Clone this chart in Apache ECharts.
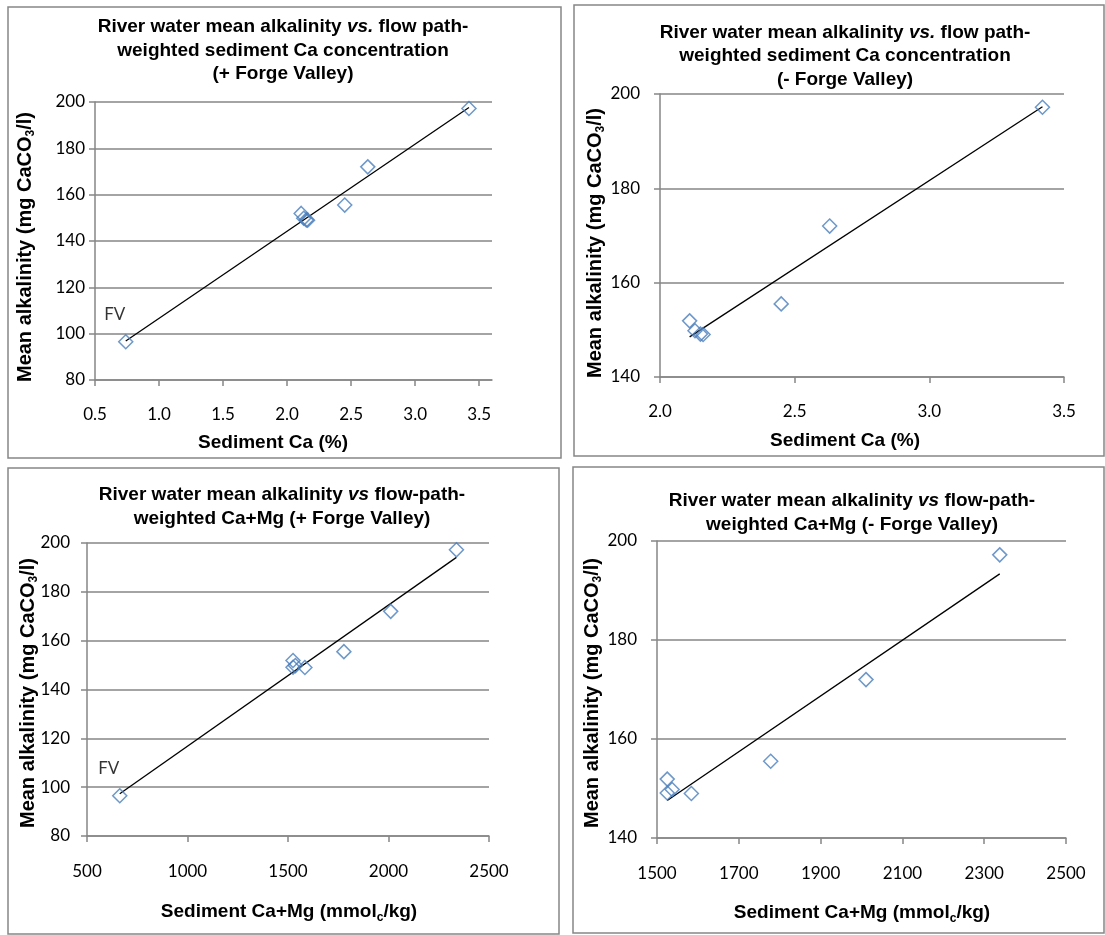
<!DOCTYPE html>
<html>
<head>
<meta charset="utf-8">
<style>
html,body{margin:0;padding:0;background:#fff;}
#chart{width:1105px;height:935px;}
</style>
<script src="https://cdn.jsdelivr.net/npm/echarts@6/dist/echarts.min.js"></script>
</head>
<body>
<div id="chart"></div>
<script>
// one value per site, Forge Valley (FV) is the first one
var alkalinity = [96.5, 151.9, 149.8, 149.1, 149.0, 155.5, 172.0, 197.2];
var sedimentCa = [0.74, 2.11, 2.13, 2.15, 2.16, 2.45, 2.63, 3.42];
var sedimentCaMg = [663, 1525, 1537, 1525, 1584, 1778, 2011, 2338];

// tick labels
var ticksCaFV = [0.5, 1.0, 1.5, 2.0, 2.5, 3.0, 3.5];
var ticksCa = [2.0, 2.5, 3.0, 3.5];
var ticksCaMgFV = [500, 1000, 1500, 2000, 2500];
var ticksCaMg = [1500, 1700, 1900, 2100, 2300, 2500];
var ticksAlkFV = [80, 100, 120, 140, 160, 180, 200];
var ticksAlk = [140, 160, 180, 200];

var GREY = '#868686';
var BLUE = '#4a7ebb';
var TXT = 'Liberation Sans, Arial, sans-serif';
var NUM = 'Lato, sans-serif';

function pairs(xs, ys) {
	return xs.map(function(x, i) { return [x, ys[i]]; });
}

// least squares trend, drawn from the smallest to the largest x
function trend(xs, ys) {
	var n = xs.length, mx = 0, my = 0, sxy = 0, sxx = 0, i;
	for (i = 0; i < n; i++) { mx += xs[i]; my += ys[i]; }
	mx /= n; my /= n;
	for (i = 0; i < n; i++) {
		sxy += (xs[i] - mx) * (ys[i] - my);
		sxx += (xs[i] - mx) * (xs[i] - mx);
	}
	var k = sxy / sxx, b = my - k * mx;
	var lo = Math.min.apply(null, xs), hi = Math.max.apply(null, xs);
	return [[lo, k * lo + b], [hi, k * hi + b]];
}

var panels = [
	{
		box: [8, 7, 553, 451],
		grid: {left: 95, top: 102, width: 397, height: 278},
		xs: sedimentCa, ys: alkalinity, fv: true,
		xTicks: ticksCaFV, xMax: 3.6, yTicks: ticksAlkFV, dec: 1,
		xLabelMargin: 26, yLabelMargin: 10,
		title: '{b|River water mean alkalinity }{i|vs.}{b| flow path-}\n{b|weighted sediment Ca concentration}\n{b|(+ Forge Valley)}',
		titlePos: [283, 50.5],
		xName: '{b|Sediment Ca (%)}', xNamePos: [273, 443],
		yNamePos: [25, 247]
	},
	{
		box: [574, 5, 530, 451],
		grid: {left: 660, top: 94, width: 404, height: 283},
		xs: sedimentCa.slice(1), ys: alkalinity.slice(1), fv: false,
		xTicks: ticksCa, yTicks: ticksAlk, dec: 1,
		xLabelMargin: 26, yLabelMargin: 20,
		title: '{b|River water mean alkalinity }{i|vs.}{b| flow path-}\n{b|weighted sediment Ca concentration}\n{b|(- Forge Valley)}',
		titlePos: [845, 56],
		xName: '{b|Sediment Ca (%)}', xNamePos: [845, 441],
		yNamePos: [595, 243]
	},
	{
		box: [8, 468, 551, 466],
		grid: {left: 87, top: 543, width: 402, height: 293},
		xs: sedimentCaMg, ys: alkalinity, fv: true,
		xTicks: ticksCaMgFV, yTicks: ticksAlkFV, dec: 0,
		xLabelMargin: 27, yLabelMargin: 17,
		title: '{b|River water mean alkalinity }{i|vs}{b| flow-path-}\n{b|weighted Ca+Mg (+ Forge Valley)}',
		titlePos: [282, 507],
		xName: '{b|Sediment Ca+Mg (mmol}{s|c}{b|/kg)}', xNamePos: [289, 912],
		yNamePos: [28, 693]
	},
	{
		box: [573, 467, 531, 466],
		grid: {left: 657, top: 541, width: 409, height: 297},
		xs: sedimentCaMg.slice(1), ys: alkalinity.slice(1), fv: false,
		xTicks: ticksCaMg, yTicks: ticksAlk, dec: 0,
		xLabelMargin: 27, yLabelMargin: 20,
		title: '{b|River water mean alkalinity }{i|vs}{b| flow-path-}\n{b|weighted Ca+Mg (- Forge Valley)}',
		titlePos: [852, 513],
		xName: '{b|Sediment Ca+Mg (mmol}{s|c}{b|/kg)}', xNamePos: [862, 913],
		yNamePos: [592, 693]
	}
];

var rich = {
	b: {fontFamily: TXT, fontWeight: 'bold', fontSize: 19, lineHeight: 23.5, color: '#000', verticalAlign: 'middle'},
	i: {fontFamily: TXT, fontWeight: 'bold', fontStyle: 'italic', fontSize: 19, lineHeight: 23.5, color: '#000', verticalAlign: 'middle'},
	y: {fontFamily: TXT, fontWeight: 'bold', fontSize: 20, lineHeight: 23.5, color: '#000', verticalAlign: 'middle'},
	s: {fontFamily: TXT, fontWeight: 'bold', fontSize: 12, lineHeight: 12, color: '#000', verticalAlign: 'bottom'}
};

function label(text, pos, rot) {
	return {
		type: 'text',
		x: pos[0], y: pos[1],
		rotation: rot || 0,
		style: {text: text, rich: rich, align: 'center', verticalAlign: 'middle', fill: '#000'}
	};
}

var option = {
	animation: false,
	backgroundColor: '#fff',
	grid: [], xAxis: [], yAxis: [], series: [], graphic: []
};

panels.forEach(function(p, i) {
	var xt = p.xTicks, yt = p.yTicks;
	option.grid.push(p.grid);
	var xa = {
		type: 'value', gridIndex: i,
		min: xt[0], max: p.xMax || xt[xt.length - 1], interval: xt[1] - xt[0],
		axisLine: {lineStyle: {color: GREY, width: 1.5}},
		axisTick: {show: true, length: 6, lineStyle: {color: GREY, width: 1.5}},
		axisLabel: {
			margin: p.xLabelMargin, color: '#000', fontFamily: NUM, fontSize: 17,
			formatter: function(v) { return v.toFixed(p.dec); }
		},
		splitLine: {show: false}
	};
	if (p.xMax) {
		xa.axisTick.customValues = xt;
		xa.axisLabel.customValues = xt;
	}
	option.xAxis.push(xa);
	option.yAxis.push({
		type: 'value', gridIndex: i,
		min: yt[0], max: yt[yt.length - 1], interval: yt[1] - yt[0],
		axisLine: {show: true, lineStyle: {color: GREY, width: 1.5}},
		axisTick: {show: true, length: 6, lineStyle: {color: GREY, width: 1.5}},
		axisLabel: {margin: p.yLabelMargin, color: '#000', fontFamily: NUM, fontSize: 17},
		splitLine: {show: true, lineStyle: {color: GREY, width: 1.5}}
	});

	var pts = pairs(p.xs, p.ys);
	if (p.fv) {
		pts[0] = {
			value: pts[0],
			label: {show: true, formatter: 'FV', position: 'top', offset: [-11, -6],
				color: '#000', fontFamily: NUM, fontSize: 17}
		};
	}
	option.series.push({
		type: 'line', xAxisIndex: i, yAxisIndex: i,
		data: trend(p.xs, p.ys), showSymbol: false, silent: true,
		lineStyle: {color: '#000', width: 1.3}, z: 2
	});
	option.series.push({
		type: 'scatter', xAxisIndex: i, yAxisIndex: i,
		data: pts, symbol: 'diamond', symbolSize: 14,
		itemStyle: {color: 'rgba(0,0,0,0)', borderColor: BLUE, borderWidth: 1.5}, z: 3
	});

	option.graphic.push({
		type: 'rect',
		shape: {x: p.box[0], y: p.box[1], width: p.box[2], height: p.box[3]},
		style: {fill: null, stroke: GREY, lineWidth: 1.5}, silent: true
	});
	option.graphic.push(label(p.title, p.titlePos));
	option.graphic.push(label(p.xName, p.xNamePos));
	option.graphic.push(label('{y|Mean alkalinity (mg CaCO}{s|3}{y|/l)}', p.yNamePos, Math.PI / 2));
});

var chart = echarts.init(document.getElementById('chart'), null, {renderer: 'canvas'});
chart.setOption(option);
</script>
</body>
</html>
